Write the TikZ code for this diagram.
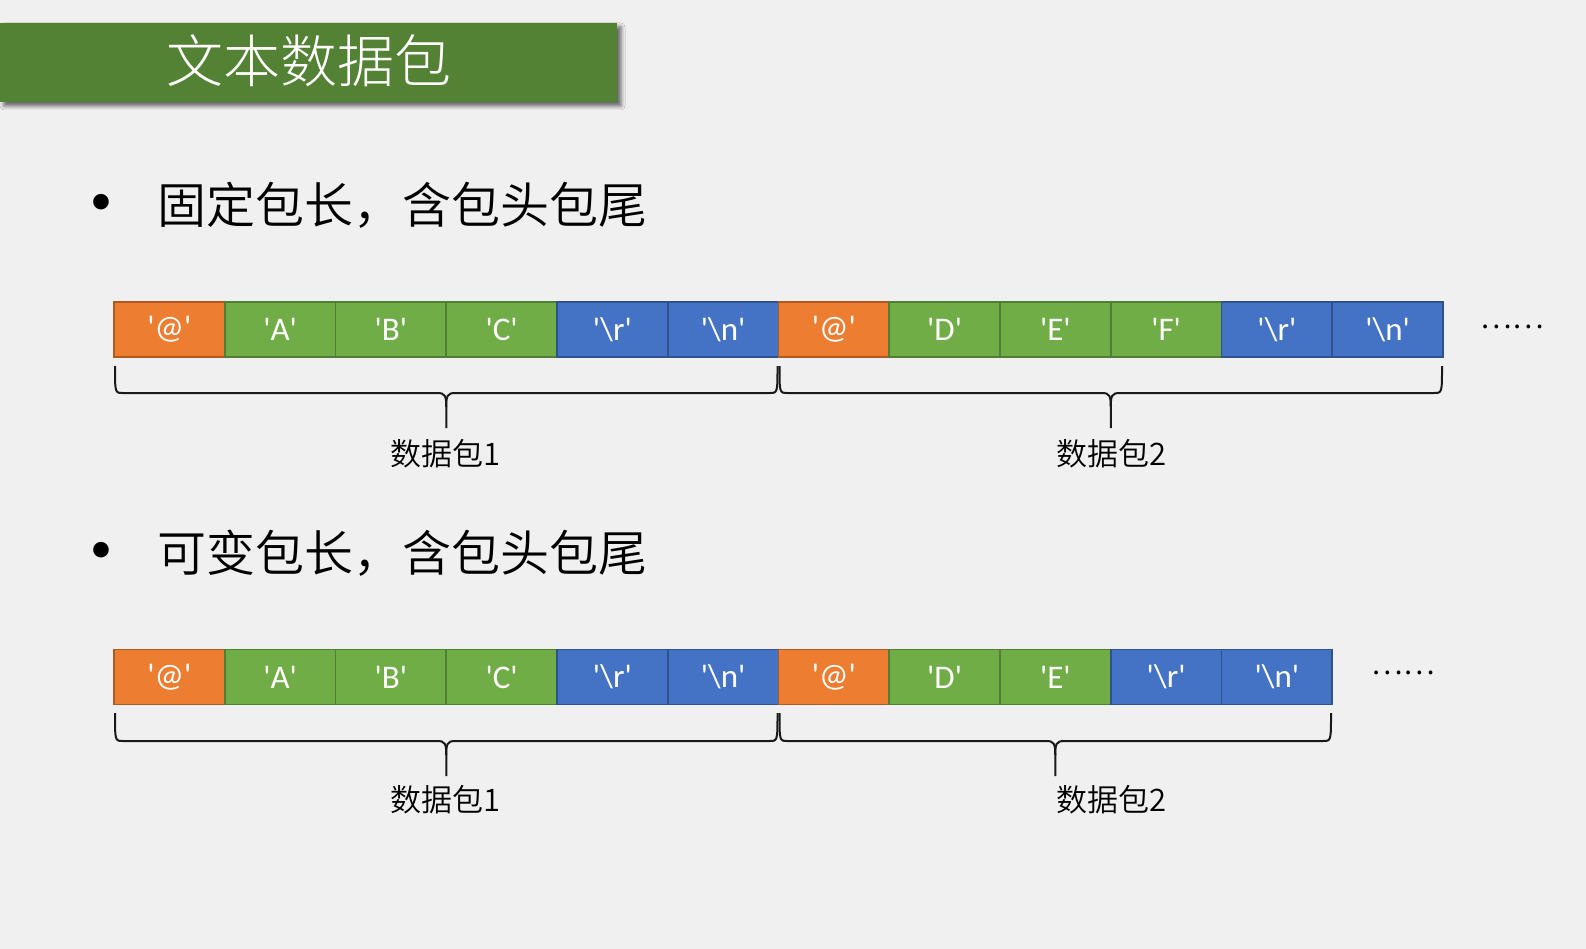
\documentclass[tikz,border=0pt]{standalone}
\usepackage{fontspec}
\setmainfont{Carlito}
\newfontfamily\cjk{Noto Sans CJK SC DemiLight}
\newfontfamily\cjklight{Noto Sans CJK SC Light}
\usetikzlibrary{shadows.blur}

\definecolor{bgGray}{HTML}{F0F0F0}
\definecolor{titleGreen}{HTML}{548235}
\definecolor{OrgFill}{HTML}{ED7D31}
\definecolor{OrgLine}{HTML}{AE5A21}
\definecolor{GrnFill}{HTML}{70AD47}
\definecolor{GrnLine}{HTML}{507E32}
\definecolor{BluFill}{HTML}{4472C4}
\definecolor{BluLine}{HTML}{2F528F}

% brace under a packet: left x, right x, top y, bar y
\newcommand{\pktbrace}[4]{%
  \draw[braceLine] (#1,#3) .. controls (#1,#4) .. ({#1+8},#4)
    -- ({(#1+#2)/2-9},#4) .. controls ({(#1+#2)/2-1},#4) and ({(#1+#2)/2},{#4+3}) .. ({(#1+#2)/2},{#4+14})
    -- ({(#1+#2)/2},{#4+35});
  \draw[braceLine] ({(#1+#2)/2},{#4+14}) .. controls ({(#1+#2)/2},{#4+3}) and ({(#1+#2)/2+1},#4) .. ({(#1+#2)/2+9},#4)
    -- ({#2-8},#4) .. controls (#2,#4) .. (#2,#3);
}

\begin{document}
\begin{tikzpicture}[
        x=1pt, y=-1pt,
        titleBar/.style={rectangle, fill=titleGreen, minimum width=617pt, minimum height=79pt, inner sep=0pt,
            blur shadow={shadow xshift=4pt, shadow yshift=-4pt, shadow blur radius=4pt, shadow opacity=60}},
        cellNode/.style={rectangle, draw, line width=1.6pt, minimum width=110.75pt, minimum height=55pt,
            inner sep=0pt, text=white, font=\fontsize{33}{36}\selectfont},
        bulletText/.style={anchor=west, inner sep=0pt, font=\cjk\fontsize{49}{55}\selectfont},
        pktLabel/.style={inner sep=0pt, font=\cjk\fontsize{31}{36}\selectfont},
        moreDots/.style={inner sep=0pt, font=\cjk\fontsize{30}{34}\selectfont},
        braceLine/.style={draw=black!90, line width=2pt}
    ]
        % Page
        \fill[bgGray] (0,0) rectangle (1586,949);
        \useasboundingbox (0,0) rectangle (1586,949);

        % Title
        \node[titleBar] (title) at (308.5,62.5) {};
        \node[text=white, font=\cjklight\fontsize{57}{62}\selectfont] (titleText) at (309,61) {文本数据包};

        % Bullets
        \node[font=\fontsize{44}{50}\selectfont] (dotA) at (101,204) {•};
        \node[bulletText] (lineA) at (157,205) {固定包长，含包头包尾};
        \node[font=\fontsize{44}{50}\selectfont] (dotB) at (101,552) {•};
        \node[bulletText] (lineB) at (157,553) {可变包长，含包头包尾};

        % Fixed length packets
        \foreach \txt/\clr [count=\i] in {@/Org, A/Grn, B/Grn, C/Grn, \textbackslash r/Blu, \textbackslash n/Blu,
                                          @/Org, D/Grn, E/Grn, F/Grn, \textbackslash r/Blu, \textbackslash n/Blu} {
            \node[cellNode, fill=\clr Fill, draw=\clr Line] (fix\i) at ({114+(\i-0.5)*110.75},329.5)
                {\textquotesingle\txt\textquotesingle};
        }
        \node[moreDots] (fixMore) at (1512,327) {……};

        % Variable length packets
        \foreach \txt/\clr [count=\i] in {@/Org, A/Grn, B/Grn, C/Grn, \textbackslash r/Blu, \textbackslash n/Blu,
                                          @/Org, D/Grn, E/Grn, \textbackslash r/Blu, \textbackslash n/Blu} {
            \node[cellNode, fill=\clr Fill, draw=\clr Line] (var\i) at ({114+(\i-0.5)*110.75},677)
                {\textquotesingle\txt\textquotesingle};
        }
        \node[moreDots] (varMore) at (1403,673) {……};

        % Braces
        \pktbrace{115}{777.5}{366}{393}
        \pktbrace{779.5}{1442}{366}{393}
        \pktbrace{115}{777.5}{713}{741}
        \pktbrace{779.5}{1331}{713}{741}

        % Packet labels
        \node[pktLabel] (fixPkt1) at (446,454) {数据包1};
        \node[pktLabel] (fixPkt2) at (1111,454) {数据包2};
        \node[pktLabel] (varPkt1) at (446,800) {数据包1};
        \node[pktLabel] (varPkt2) at (1111,800) {数据包2};
    \end{tikzpicture}
\end{document}
